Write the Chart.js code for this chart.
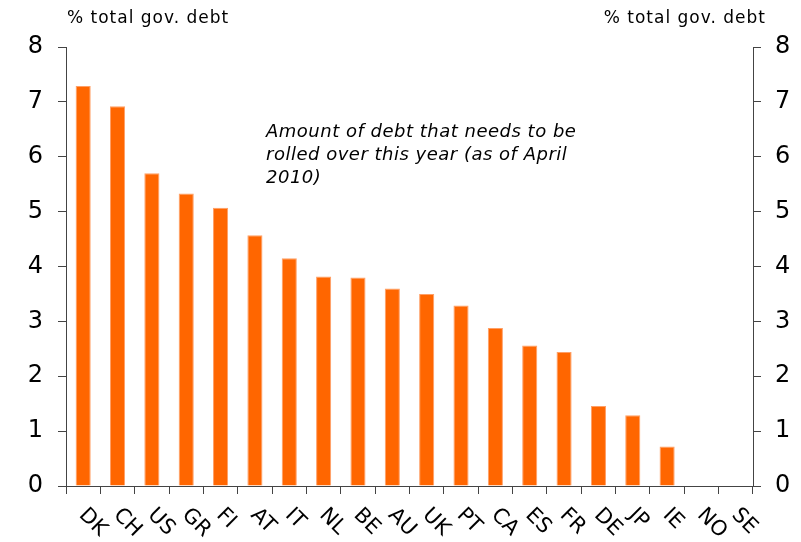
<!DOCTYPE html>
<html>
<head>
<meta charset="utf-8">
<script src="https://cdn.jsdelivr.net/npm/chart.js@4"></script>
<style>
html,body{margin:0;padding:0;background:#fff;}
#wrap{width:801px;height:542px;position:relative;}
</style>
</head>
<body>
<div id="wrap"><canvas id="c" width="801" height="542"></canvas></div>
<script>
const categories = ["DK","CH","US","GR","FI","AT","IT","NL","BE","AU","UK","PT","CA","ES","FR","DE","JP","IE","NO","SE"];
const debtRollover = [7.29,6.92,5.70,5.33,5.07,4.57,4.15,3.82,3.80,3.60,3.50,3.29,2.88,2.56,2.44,1.46,1.29,0.72,0,0];
const yTicks = [0,1,2,3,4,5,6,7,8];
const axisTitle = "% total gov. debt";
const noteLines = ["Amount of debt that needs to be","rolled over this year (as of April","2010)"];

const FONT = "'DejaVu Sans', Verdana, sans-serif";

const overlay = {
  id: 'overlay',
  afterDraw(chart) {
    const ctx = chart.ctx;
    const x = chart.scales.x;
    const area = chart.chartArea;
    ctx.save();
    ctx.fillStyle = '#000';
    // axis titles
    ctx.font = "17px " + FONT;
    ctx.letterSpacing = "1px";
    ctx.textBaseline = 'alphabetic';
    ctx.textAlign = 'left';
    ctx.fillText(axisTitle, 67, 23);
    ctx.textAlign = 'right';
    ctx.fillText(axisTitle, 766, 23);
    // note
    ctx.font = "italic 18px " + FONT;
    ctx.letterSpacing = "0.5px";
    ctx.textAlign = 'left';
    noteLines.forEach((l, i) => ctx.fillText(l, 266, 137 + i * 23));
    // rotated category labels
    ctx.letterSpacing = "0px";
    ctx.font = "21px " + FONT;
    ctx.textBaseline = 'middle';
    ctx.textAlign = 'left';
    categories.forEach((c, i) => {
      const px = x.getPixelForValue(i);
      ctx.save();
      ctx.translate(px - 1, area.bottom + 26);
      ctx.rotate(Math.PI / 4);
      ctx.fillText(c, 0, 0);
      ctx.restore();
    });
    ctx.restore();
  }
};

const yCommon = {
  min: 0, max: 8,
  afterBuildTicks(scale) { scale.ticks = yTicks.map(v => ({value: v})); },
  grid: { drawOnChartArea: false, drawTicks: true, tickLength: 8, color: '#444', lineWidth: 1 },
  border: { display: true, color: '#444', width: 1 },
  ticks: { color: '#000', font: { size: 24, family: FONT }, stepSize: 1 }
};

new Chart(document.getElementById('c'), {
  type: 'bar',
  data: {
    labels: categories,
    datasets: [{
      data: debtRollover,
      backgroundColor: '#FF6600',
      borderColor: '#FF9F66',
      borderWidth: { left: 1, right: 1, top: 1, bottom: 0 },
      barPercentage: 0.44,
      categoryPercentage: 1.0
    }]
  },
  options: {
    responsive: false,
    animation: false,
    devicePixelRatio: 1,
    layout: { padding: { top: 47, left: 0, right: 0, bottom: 0 } },
    plugins: { legend: { display: false }, tooltip: { enabled: false }, title: { display: false } },
    scales: {
      x: {
        grid: { offset: true, drawOnChartArea: false, drawTicks: true, tickLength: 8, color: '#444' },
        border: { display: true, color: '#444' },
        ticks: { display: false },
        afterFit(s) { s.height = 56; }
      },
      y: Object.assign({}, yCommon, {
        position: 'left',
        ticks: Object.assign({}, yCommon.ticks, { padding: 15 }),
        afterFit(s) { s.width = 66; }
      }),
      y2: Object.assign({}, yCommon, {
        position: 'right',
        ticks: Object.assign({}, yCommon.ticks, { padding: 14 }),
        afterFit(s) { s.width = 48; }
      })
    }
  },
  plugins: [overlay]
});
</script>
</body>
</html>
